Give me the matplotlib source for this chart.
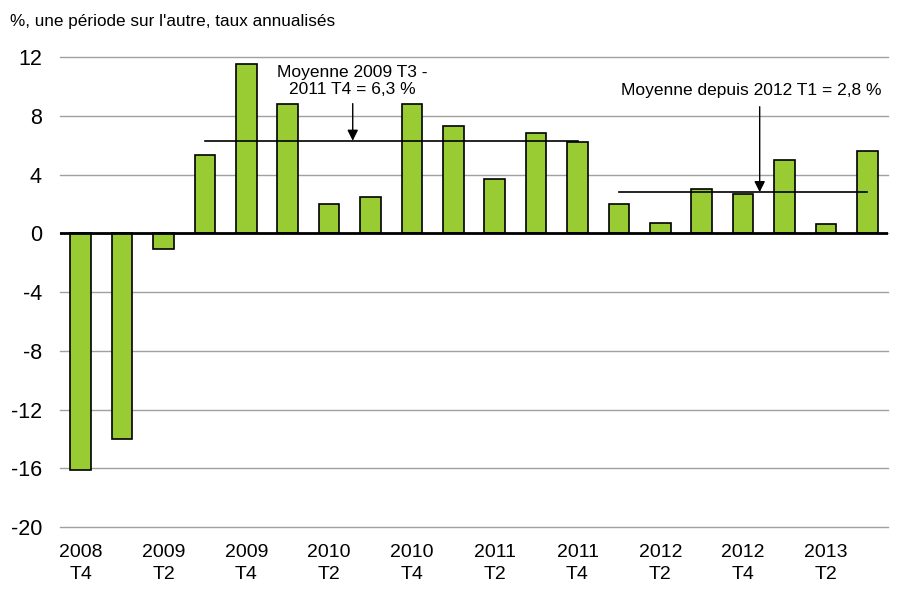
import matplotlib.pyplot as plt
import numpy as np

# data
periods = ["2008 T4", "2009 T1", "2009 T2", "2009 T3", "2009 T4",
           "2010 T1", "2010 T2", "2010 T3", "2010 T4",
           "2011 T1", "2011 T2", "2011 T3", "2011 T4",
           "2012 T1", "2012 T2", "2012 T3", "2012 T4",
           "2013 T1", "2013 T2", "2013 T3"]
growth = [-16.1, -14.0, -1.1, 5.3, 11.5, 8.8, 2.0, 2.5, 8.8, 7.3,
          3.7, 6.8, 6.2, 2.0, 0.7, 3.0, 2.7, 5.0, 0.6, 5.6]
avg1 = 6.3   # 2009 T3 - 2011 T4
avg2 = 2.8   # since 2012 T1
yticks = [-20, -16, -12, -8, -4, 0, 4, 8, 12]

plt.rcParams['font.family'] = ['Liberation Sans', 'DejaVu Sans']

fig = plt.figure(figsize=(9, 5.94), dpi=100)
ax = fig.add_axes([0.0667, 0.1128, 0.92, 0.7912])

x = np.arange(len(periods))
ax.bar(x, growth, width=0.5, color='#99cc33', edgecolor='black', linewidth=1.2, zorder=3)

ax.set_xlim(-0.5, len(periods) - 0.5)
ax.set_ylim(-20, 12)
ax.set_yticks(yticks)
ax.set_yticklabels([str(v) for v in yticks], fontsize=15.5)
ax.yaxis.grid(True, color='#a0a0a0', linewidth=1)
for gl in ax.get_ygridlines():
    gl.set_clip_on(False)
ax.set_axisbelow(True)
ax.axhline(0, color='black', linewidth=2, zorder=4)
for s in ax.spines.values():
    s.set_visible(False)
ax.tick_params(axis='both', length=0)
ax.tick_params(axis='y', pad=13)

# x labels every other period, two lines
xt = x[::2]
xl = [p.replace(' ', '\n') for p in periods[::2]]
ax.set_xticks(xt)
ax.set_xticklabels(xl, fontsize=14, linespacing=1.4)
ax.tick_params(axis='x', pad=12)

# average lines
i1, j1 = periods.index("2009 T3"), periods.index("2011 T4")
i2, j2 = periods.index("2012 T1"), len(periods) - 1
ax.plot([i1, j1], [avg1, avg1], color='black', linewidth=1.2, zorder=5)
ax.plot([i2, j2], [avg2, avg2], color='black', linewidth=1.2, zorder=5)

arrow = dict(arrowstyle='-|>', color='black', lw=1, mutation_scale=16, shrinkA=3, shrinkB=0)
ax.annotate("Moyenne 2009 T3 -\n2011 T4 = 6,3 %", xy=(6.57, avg1), xytext=(6.57, 9.3),
            ha='center', va='bottom', fontsize=12.5, linespacing=1.1, arrowprops=arrow)
ax.annotate("", xy=(16.4, avg2), xytext=(16.4, 8.9), arrowprops=arrow)
ax.text(16.2, 9.2, "Moyenne depuis 2012 T1 = 2,8 %", ha='center', va='bottom', fontsize=12.5)

fig.text(0.011, 0.977, "%, une période sur l'autre, taux annualisés", fontsize=12.3, va='top', ha='left')

fig.savefig('out.png', dpi=100)
